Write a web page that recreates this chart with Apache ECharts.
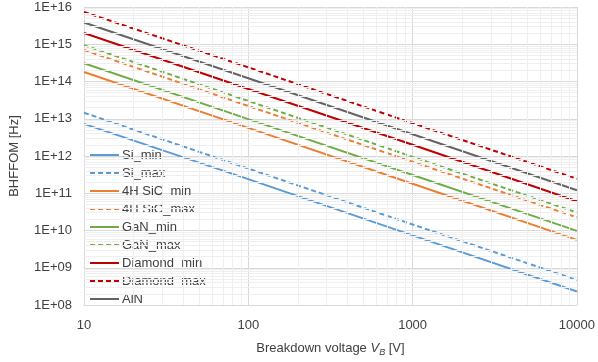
<!DOCTYPE html>
<html>
<head>
<meta charset="utf-8">
<script src="https://cdn.jsdelivr.net/npm/echarts@6/dist/echarts.min.js"></script>
<style>
  html, body { margin: 0; padding: 0; background: #fff; }
  #chart { width: 598px; height: 362px; }
</style>
</head>
<body>
<div id="chart"></div>
<script>
// Breakdown voltage [V]
const voltages = [10, 100, 1000, 10000];

// BHFFOM [Hz] for each material
const siMin = [7.3e12, 2.4e11, 7.4e9, 2.3e8];
const siMax = [1.45e13, 4.6e11, 1.45e10, 4.7e8];
const sicMin = [1.8e14, 5.7e12, 1.8e11, 5.6e9];
const sicMax = [7.0e14, 2.2e13, 7.0e11, 2.25e10];
const ganMin = [3.1e14, 9.8e12, 3.1e11, 9.8e9];
const ganMax = [9.4e14, 3.0e13, 9.5e11, 3.05e10];
const diamondMin = [2.0e15, 6.3e13, 2.0e12, 6.1e10];
const diamondMax = [7.4e15, 2.4e14, 7.6e12, 2.45e11];
const alnMax = [3.85e15, 1.22e14, 3.85e12, 1.2e11];

const seriesNames = ['Si_min', 'Si_max', '4H SiC_min', '4H SiC_max', 'GaN_min', 'GaN_max', 'Diamond_min', 'Diamond_max', 'AlN'];
const seriesValues = [siMin, siMax, sicMin, sicMax, ganMin, ganMax, diamondMin, diamondMax, alnMax];
const seriesColors = ['#5B9BD5', '#5B9BD5', '#ED7D31', '#ED7D31', '#70AD47', '#70AD47', '#C00000', '#C00000', '#636363'];
const seriesDashed = [false, true, false, true, false, true, false, true, false];

const fontFamily = '"Liberation Sans", Arial, sans-serif';
const textColor = '#404040';

// minor grid lines at 2..9 of each decade
const minorLines = [];
for (let e = 1; e < 4; e++) {
  for (let k = 2; k <= 9; k++) minorLines.push({ xAxis: k * Math.pow(10, e) });
}
for (let e = 8; e < 16; e++) {
  for (let k = 2; k <= 9; k++) minorLines.push({ yAxis: k * Math.pow(10, e) });
}

const series = [{
  type: 'line',
  data: [],
  silent: true,
  z: 0,
  markLine: {
    silent: true,
    symbol: 'none',
    label: { show: false },
    animation: false,
    lineStyle: { color: '#efefef', width: 1, type: 'solid' },
    emphasis: { disabled: true },
    data: minorLines
  }
}];

seriesNames.forEach((name, i) => {
  series.push({
    name: name,
    type: 'line',
    symbol: 'none',
    z: 3,
    data: voltages.map((v, j) => [v, seriesValues[i][j]]),
    lineStyle: {
      color: seriesColors[i],
      width: 2,
      type: seriesDashed[i] ? [5, 3] : 'solid'
    },
    itemStyle: { color: seriesColors[i] }
  });
});

const chart = echarts.init(document.getElementById('chart'), null, { renderer: 'canvas' });
chart.setOption({
  animation: false,
  backgroundColor: '#ffffff',
  grid: { left: 79, right: 20, top: 7, bottom: 55, containLabel: false },
  legend: {
    data: seriesNames,
    orient: 'vertical',
    left: 84,
    top: 143,
    itemWidth: 29,
    itemHeight: 14,
    itemGap: 4,
    // hide the marker drawn on the legend line, keep the line itself
    itemStyle: { opacity: 0 },
    textStyle: { fontFamily: fontFamily, fontSize: 13, color: textColor, lineHeight: 14, padding: [0, 0, 0, -2] }
  },
  xAxis: {
    type: 'log',
    logBase: 10,
    min: 10,
    max: 10000,
    name: '{a|Breakdown voltage }{i|V}{s|B}{a| [V]}',
    nameLocation: 'middle',
    nameGap: 35,
    nameTextStyle: {
      rich: {
        a: { fontFamily: fontFamily, fontSize: 13, color: textColor },
        i: { fontFamily: fontFamily, fontSize: 13, color: textColor, fontStyle: 'italic' },
        s: { fontFamily: fontFamily, fontSize: 9, color: textColor, fontStyle: 'italic', padding: [8, 0, 0, 0] }
      }
    },
    axisLine: { show: true, lineStyle: { color: '#d9d9d9' } },
    axisTick: { show: false },
    axisLabel: { fontFamily: fontFamily, fontSize: 13, color: textColor, margin: 14, formatter: v => String(v) },
    splitLine: { show: true, lineStyle: { color: '#d9d9d9', width: 1 } }
  },
  yAxis: {
    type: 'log',
    logBase: 10,
    min: 1e8,
    max: 1e16,
    name: 'BHFFOM [Hz]',
    nameLocation: 'middle',
    nameGap: 63,
    nameTextStyle: { fontFamily: fontFamily, fontSize: 13, color: textColor },
    axisLine: { show: true, lineStyle: { color: '#d9d9d9' } },
    axisTick: { show: false },
    axisLabel: {
      fontFamily: fontFamily,
      fontSize: 13,
      color: textColor,
      margin: 12,
      formatter: v => '1E+' + String(Math.round(Math.log10(v))).padStart(2, '0')
    },
    splitLine: { show: true, lineStyle: { color: '#d9d9d9', width: 1 } }
  },
  series: series
});
</script>
</body>
</html>
